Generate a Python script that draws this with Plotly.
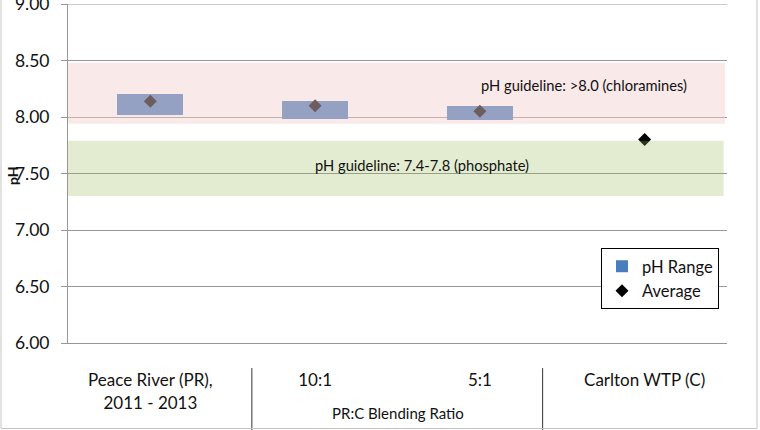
import plotly.graph_objects as go

# ---- data ----
categories = ["Peace River (PR),<br>2011 - 2013", "10:1", "5:1", "Carlton WTP (C)"]
ph_low = [8.02, 7.98, 7.97, None]
ph_high = [8.20, 8.14, 8.10, None]
ph_avg = [8.14, 8.10, 8.05, 7.80]
group_label = "PR:C Blending Ratio"
chloramine_band = [7.94, 8.48]
phosphate_band = [7.30, 7.79]
chloramine_text = "pH guideline: >8.0 (chloramines)"
phosphate_text = "pH guideline: 7.4-7.8 (phosphate)"
y_ticks = [6.0, 6.5, 7.0, 7.5, 8.0, 8.5, 9.0]

FONT = "Lato"
GRID = "#979797"
xs = list(range(len(categories)))

bar_base = [lo for lo in ph_low]
bar_len = [(hi - lo) if (hi is not None and lo is not None) else None for lo, hi in zip(ph_low, ph_high)]

fig = go.Figure()
fig.add_trace(go.Bar(
    x=xs, y=bar_len, base=bar_base, width=0.4,
    marker=dict(color="#4A7DBB", line=dict(width=0)),
    name="pH Range",
))
fig.add_trace(go.Scatter(
    x=xs, y=ph_avg, mode="markers",
    marker=dict(symbol="diamond", size=10, color="black"),
    name="Average",
))

# guideline bands (semi-transparent, drawn above like the original)
fig.add_shape(type="rect", xref="paper", yref="y", x0=0, x1=0.997,
              y0=chloramine_band[0], y1=chloramine_band[1],
              fillcolor="rgb(242,207,207)", opacity=0.45, line_width=0, layer="above")
fig.add_shape(type="rect", xref="paper", yref="y", x0=0, x1=0.995,
              y0=phosphate_band[0], y1=phosphate_band[1],
              fillcolor="rgb(155,187,89)", opacity=0.28, line_width=0, layer="above")

# top border line at 9.00
fig.add_shape(type="line", xref="paper", yref="y", x0=0, x1=1, y0=9, y1=9,
              line=dict(color=GRID, width=1), layer="below")

# category group separators
for xv in (0.616, 2.381):
    fig.add_shape(type="line", xref="x", yref="paper", x0=xv, x1=xv,
                  y0=-0.074, y1=-0.26, line=dict(color="#333333", width=1))

# outer chart frame
fig.add_shape(type="rect", xref="paper", yref="paper",
              x0=(1 - 68) / 659, x1=(757 - 68) / 659,
              y0=(343 - 428.5) / 339, y1=1.1,
              line=dict(color="#C4C4C4", width=1), fillcolor="rgba(0,0,0,0)")

fig.add_annotation(x=1.5, xref="x", y=(343 - 413) / 339, yref="paper",
                   text=group_label, showarrow=False, yanchor="middle", xanchor="center",
                   font=dict(family=FONT, size=15, color="#111"))
fig.add_annotation(x=2.632, xref="x", y=8.283, yref="y", text=chloramine_text,
                   showarrow=False, xanchor="center",
                   font=dict(family=FONT, size=14.7, color="#111"))
fig.add_annotation(x=1.647, xref="x", y=7.575, yref="y", text=phosphate_text,
                   showarrow=False, xanchor="center",
                   font=dict(family=FONT, size=14.7, color="#111"))
fig.add_annotation(x=(12 - 68) / 659, xref="paper", y=(343 - 176) / 339, yref="paper",
                   text="<b>pH</b>", textangle=-90, showarrow=False,
                   xanchor="center", yanchor="middle",
                   font=dict(family=FONT, size=14, color="#111"))

fig.update_layout(
    width=760, height=430,
    margin=dict(l=68, r=33, t=4, b=87, autoexpand=False),
    paper_bgcolor="white", plot_bgcolor="white",
    font=dict(family=FONT, color="#111"),
    showlegend=True,
    legend=dict(x=(601 - 68) / 659, y=(343 - 248) / 339, xanchor="left", yanchor="top",
                bgcolor="white", bordercolor="black", borderwidth=1,
                font=dict(family=FONT, size=16.5, color="#111"),
                itemwidth=30, tracegroupgap=0),
    bargap=0,
)
fig.update_xaxes(range=[-0.5, 3.5], tickvals=xs, ticktext=categories,
                 showgrid=False, zeroline=False, showline=True, linecolor=GRID,
                 ticks="", tickfont=dict(family=FONT, size=17, color="#111"),
                 ticklabelstandoff=22, automargin=False)
fig.update_yaxes(range=[6, 9], tickvals=y_ticks, tickformat=".2f",
                 showgrid=True, gridcolor=GRID, gridwidth=1, zeroline=False,
                 showline=True, linecolor=GRID, ticks="outside", ticklen=6,
                 tickcolor=GRID, ticklabelstandoff=8, automargin=False,
                 ticklabeloverflow="allow",
                 tickfont=dict(family=FONT, size=17.5, color="#111"))

fig.write_html("out.html", config={"displayModeBar": False},
               post_script="document.body.style.margin='0';")
